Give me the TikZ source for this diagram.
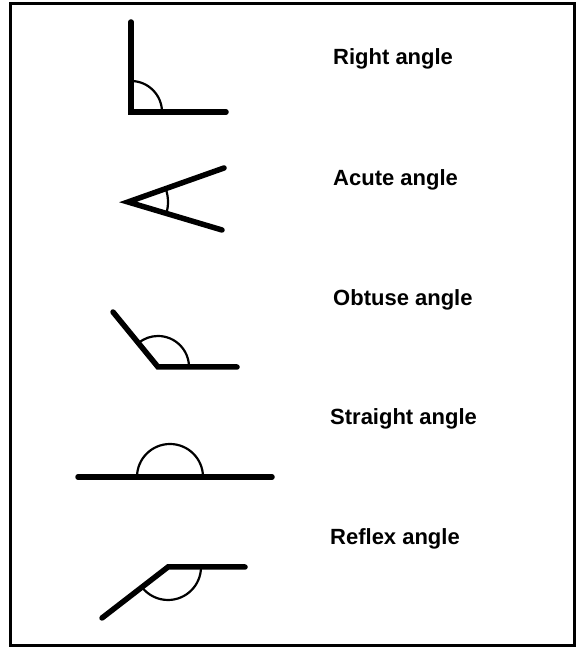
\documentclass[tikz,border=0pt]{standalone}
\usepackage{fontspec}
\setmainfont{Liberation Sans}
\begin{document}
\begin{tikzpicture}[x=1pt,y=1pt,
  arm/.style={line width=5.5pt,line cap=round,line join=miter},
  anglearc/.style={line width=2.2pt},
  lbl/.style={anchor=base west,inner sep=0pt,font=\fontsize{22}{26}\selectfont\bfseries}]
\useasboundingbox (0,0) rectangle (577,652);
\draw[line width=3pt] (10,6) rectangle (574,648);
% Right angle
\coordinate (rv) at (131,540);
\coordinate (rt) at (131,630);
\coordinate (rr) at (226,540);
\draw[arm] (rt) -- (rv) -- (rr);
\draw[anglearc] (rv) ++(0:31) arc (0:90:31);
\node[lbl] (rl) at (333,587) {Right angle};
% Acute angle
\coordinate (av) at (128,450);
\coordinate (au) at (224,484);
\coordinate (ad) at (222,422);
\draw[arm] (au) -- (av) -- (ad);
\draw[anglearc] (av) ++(-16.6:40) arc (-16.6:19.5:40);
\node[lbl] (al) at (333,466) {Acute angle};
% Obtuse angle
\coordinate (ov) at (158,285);
\coordinate (ou) at (113,340);
\coordinate (or) at (237,285);
\draw[arm] (ou) -- (ov) -- (or);
\draw[anglearc] (ov) ++(0:31) arc (0:129.3:31);
\node[lbl] (ol) at (333,346) {Obtuse angle};
% Straight angle
\coordinate (sv) at (170,175);
\coordinate (sl) at (78,175);
\coordinate (sr) at (272,175);
\draw[arm] (sl) -- (sr);
\draw[anglearc] (sv) ++(0:33) arc (0:180:33);
\node[lbl] (stl) at (330,227) {Straight angle};
% Reflex angle
\coordinate (xv) at (168,85);
\coordinate (xr) at (245,85);
\coordinate (xl) at (102,34);
\draw[arm] (xr) -- (xv) -- (xl);
\draw[anglearc] (xv) ++(0:33) arc (0:-142.3:33);
\node[lbl] (xlb) at (330,107) {Reflex angle};
\end{tikzpicture}
\end{document}
